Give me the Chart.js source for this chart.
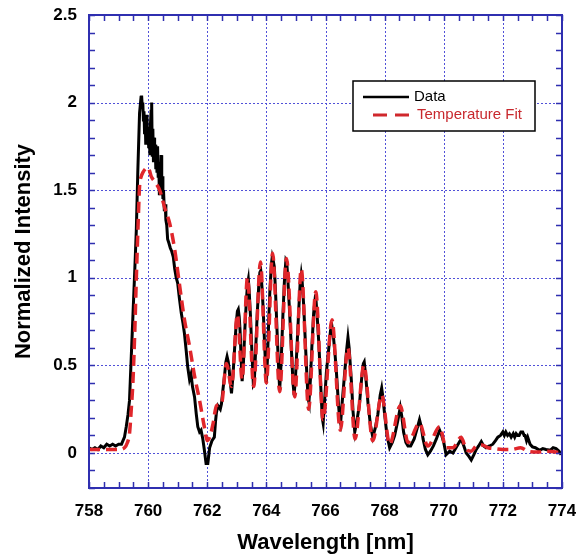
<!DOCTYPE html>
<html>
<head>
<meta charset="utf-8">
<script src="https://cdn.jsdelivr.net/npm/chart.js@4.4.1/dist/chart.umd.min.js"></script>
<style>
  html, body { margin: 0; padding: 0; background: #fff; }
  #wrap { width: 576px; height: 558px; }
</style>
</head>
<body>
<div id="wrap"><canvas id="myChart" width="576" height="558"></canvas></div>
<script>
// measured spectrum (wavelength in nm, normalized intensity)
const dataWavelength = [
    758.0, 758.1, 758.2, 758.3, 758.4, 758.5, 758.6, 758.7, 758.8, 758.9,
    759.0, 759.1, 759.2, 759.26, 759.32, 759.37, 759.43, 759.49, 759.55, 759.6,
    759.65, 759.71, 759.76, 759.78, 759.8, 759.82, 759.84, 759.86, 759.88, 759.9,
    759.92, 759.94, 759.96, 759.98, 760.0, 760.02, 760.04, 760.06, 760.08, 760.1,
    760.12, 760.14, 760.16, 760.18, 760.2, 760.22, 760.24, 760.26, 760.28, 760.3,
    760.32, 760.34, 760.36, 760.38, 760.4, 760.42, 760.44, 760.46, 760.48, 760.5,
    760.52, 760.55, 760.58, 760.6, 760.63, 760.66, 760.7, 760.75, 760.8, 760.85,
    760.9, 760.95, 761.0, 761.06, 761.12, 761.18, 761.23, 761.29, 761.34, 761.4,
    761.45, 761.5, 761.57, 761.63, 761.68, 761.74, 761.79, 761.85, 761.9, 761.96,
    762.02, 762.08, 762.16, 762.24, 762.28, 762.31, 762.36, 762.4, 762.44, 762.48,
    762.53, 762.59, 762.63, 762.67, 762.71, 762.74, 762.78, 762.82, 762.87, 762.93,
    762.98, 763.02, 763.05, 763.08, 763.11, 763.15, 763.18, 763.22, 763.27, 763.32,
    763.36, 763.39, 763.42, 763.46, 763.51, 763.56, 763.59, 763.64, 763.69, 763.74,
    763.78, 763.81, 763.85, 763.89, 763.94, 764.0, 764.04, 764.08, 764.12, 764.17,
    764.2, 764.23, 764.27, 764.31, 764.36, 764.41, 764.45, 764.5, 764.56, 764.61,
    764.66, 764.69, 764.73, 764.79, 764.85, 764.9, 764.94, 764.99, 765.04, 765.09,
    765.14, 765.18, 765.21, 765.26, 765.3, 765.36, 765.41, 765.44, 765.49, 765.54,
    765.6, 765.65, 765.68, 765.73, 765.78, 765.84, 765.89, 765.92, 765.97, 766.03,
    766.1, 766.17, 766.22, 766.27, 766.32, 766.37, 766.43, 766.48, 766.51, 766.57,
    766.65, 766.71, 766.76, 766.8, 766.84, 766.88, 766.93, 766.99, 767.06, 767.15,
    767.22, 767.28, 767.31, 767.36, 767.44, 767.52, 767.6, 767.68, 767.77, 767.85,
    767.9, 767.94, 768.0, 768.08, 768.17, 768.26, 768.34, 768.44, 768.53, 768.58,
    768.64, 768.72, 768.79, 768.88, 769.0, 769.1, 769.18, 769.24, 769.3, 769.38,
    769.46, 769.55, 769.65, 769.75, 769.86, 769.93, 770.0, 770.08, 770.2, 770.31,
    770.45, 770.59, 770.68, 770.76, 770.85, 770.93, 771.02, 771.1, 771.18, 771.27,
    771.35, 771.43, 771.55, 771.66, 771.75, 771.83, 771.92, 772.0, 772.05, 772.1,
    772.16, 772.22, 772.28, 772.35, 772.4, 772.45, 772.5, 772.55, 772.61, 772.67,
    772.72, 772.75, 772.8, 772.84, 772.92, 773.0, 773.1, 773.24, 773.35, 773.46,
    773.6, 773.7, 773.8, 773.9, 773.97
];
const dataIntensity = [
    0.03, 0.02, 0.03, 0.02, 0.04, 0.03, 0.05, 0.04, 0.05, 0.04,
    0.05, 0.05, 0.09, 0.15, 0.22, 0.30, 0.55, 0.80, 1.05, 1.27,
    1.60, 1.94, 2.03, 2.04, 1.98, 2.00, 1.90, 1.95, 1.82, 1.92,
    1.76, 1.88, 1.93, 1.80, 1.86, 1.74, 1.82, 1.70, 1.88, 1.95,
    2.00, 1.70, 1.85, 1.66, 1.80, 1.68, 1.76, 1.62, 1.74, 1.60,
    1.75, 1.58, 1.66, 1.48, 1.62, 1.56, 1.70, 1.52, 1.58, 1.45,
    1.50, 1.38, 1.42, 1.33, 1.30, 1.22, 1.20, 1.17, 1.15, 1.12,
    1.05, 1.00, 0.97, 0.88, 0.80, 0.74, 0.68, 0.58, 0.49, 0.42,
    0.45, 0.38, 0.32, 0.22, 0.15, 0.12, 0.13, 0.08, 0.02, -0.06,
    -0.06, 0.03, 0.07, 0.09, 0.18, 0.23, 0.27, 0.26, 0.25, 0.28,
    0.36, 0.45, 0.52, 0.55, 0.52, 0.48, 0.40, 0.34, 0.44, 0.61,
    0.74, 0.81, 0.82, 0.78, 0.70, 0.52, 0.41, 0.50, 0.70, 0.86,
    0.96, 0.99, 0.92, 0.79, 0.58, 0.39, 0.40, 0.60, 0.79, 0.95,
    1.03, 1.04, 0.95, 0.83, 0.62, 0.40, 0.55, 0.76, 0.93, 1.08,
    1.12, 1.10, 1.06, 0.92, 0.70, 0.50, 0.36, 0.52, 0.79, 0.98,
    1.10, 1.09, 0.98, 0.79, 0.58, 0.40, 0.33, 0.45, 0.62, 0.80,
    0.96, 1.02, 0.98, 0.85, 0.70, 0.48, 0.31, 0.29, 0.42, 0.61,
    0.80, 0.88, 0.87, 0.75, 0.61, 0.38, 0.20, 0.17, 0.30, 0.46,
    0.58, 0.70, 0.72, 0.66, 0.57, 0.46, 0.30, 0.19, 0.17, 0.30,
    0.46, 0.58, 0.66, 0.60, 0.50, 0.40, 0.24, 0.12, 0.18, 0.28,
    0.42, 0.51, 0.52, 0.44, 0.28, 0.16, 0.09, 0.14, 0.22, 0.33,
    0.37, 0.32, 0.22, 0.10, 0.03, 0.06, 0.10, 0.18, 0.26, 0.21,
    0.12, 0.06, 0.04, 0.04, 0.08, 0.14, 0.19, 0.15, 0.08, 0.02,
    -0.01, 0.01, 0.04, 0.08, 0.13, 0.10, 0.06, -0.01, 0.01, 0.00,
    0.04, 0.08, 0.04, 0.00, -0.02, -0.04, -0.01, 0.02, 0.04, 0.065,
    0.04, 0.03, 0.04, 0.05, 0.07, 0.09, 0.10, 0.12, 0.10, 0.12,
    0.10, 0.11, 0.09, 0.11, 0.09, 0.11, 0.10, 0.10, 0.12, 0.12,
    0.10, 0.10, 0.07, 0.09, 0.05, 0.035, 0.03, 0.015, 0.025, 0.02,
    0.015, 0.03, 0.025, 0.01, -0.01
];

// rotational temperature fit
const fitWavelength = [
    758.0, 758.5, 759.0, 759.2, 759.3, 759.37, 759.43, 759.49, 759.55, 759.6,
    759.66, 759.71, 759.77, 759.82, 759.9, 759.99, 760.05, 760.1, 760.22, 760.39,
    760.56, 760.73, 760.9, 761.07, 761.23, 761.4, 761.57, 761.74, 761.9, 762.0,
    762.1, 762.2, 762.31, 762.48, 762.65, 762.82, 763.02, 763.18, 763.36, 763.57,
    763.8, 764.0, 764.21, 764.45, 764.68, 764.96, 765.18, 765.43, 765.67, 765.92,
    766.22, 766.5, 766.76, 767.0, 767.3, 767.6, 767.9, 768.17, 768.53, 768.79,
    769.18, 769.46, 769.86, 770.08, 770.3, 770.59, 770.76, 770.93, 771.1, 771.3,
    771.5, 771.7, 772.0, 772.3, 772.6, 772.85, 773.2, 773.5, 774.0
];
const fitIntensity = [
    0.02, 0.02, 0.02, 0.03, 0.06, 0.11, 0.25, 0.42, 0.70, 0.99,
    1.30, 1.52, 1.58, 1.60, 1.62, 1.63, 1.61, 1.58, 1.55, 1.50,
    1.40, 1.31, 1.16, 0.95, 0.76, 0.61, 0.44, 0.30, 0.15, 0.07,
    0.10, 0.17, 0.27, 0.28, 0.51, 0.38, 0.79, 0.42, 1.00, 0.38,
    1.09, 0.40, 1.14, 0.35, 1.11, 0.32, 1.05, 0.25, 0.92, 0.19,
    0.76, 0.13, 0.60, 0.08, 0.50, 0.07, 0.33, 0.05, 0.27, 0.06,
    0.17, 0.04, 0.15, 0.03, 0.03, 0.09, 0.02, 0.01, 0.04, 0.045,
    0.03, 0.025, 0.02, 0.02, 0.03, 0.01, 0.005, 0.01, 0.00
];

const xTicks = [758, 760, 762, 764, 766, 768, 770, 772, 774];
const yTicks = [0, 0.5, 1, 1.5, 2, 2.5];

const FONT = "'Liberation Sans', Arial, sans-serif";
const AXIS_BLUE = '#2f2fb0';
const GRID_BLUE = '#5050d8';

function zip(xs, ys) {
    return xs.map((x, i) => ({ x: x, y: ys[i] }));
}

// dotted grid behind the traces, blue frame with inward ticks and the legend on top
const framePlugin = {
    id: 'frame',
    beforeDatasetsDraw(chart) {
        const { ctx, chartArea: a, scales: { x, y } } = chart;
        ctx.save();
        ctx.strokeStyle = GRID_BLUE;
        ctx.lineWidth = 1;
        ctx.setLineDash([2, 2]);
        ctx.beginPath();
        xTicks.forEach(v => {
            const px = Math.round(x.getPixelForValue(v)) + 0.5;
            ctx.moveTo(px, a.top); ctx.lineTo(px, a.bottom);
        });
        yTicks.forEach(v => {
            const py = Math.round(y.getPixelForValue(v)) + 0.5;
            ctx.moveTo(a.left, py); ctx.lineTo(a.right, py);
        });
        ctx.stroke();
        ctx.restore();
    },
    afterDatasetsDraw(chart) {
        const { ctx, chartArea: a, scales: { x, y } } = chart;
        ctx.save();
        ctx.strokeStyle = AXIS_BLUE;
        ctx.lineWidth = 2;
        ctx.strokeRect(a.left, a.top, a.right - a.left, a.bottom - a.top);

        // minor ticks: 0.5 nm on x, 0.1 on y
        const len = 6;
        ctx.lineWidth = 1.5;
        ctx.beginPath();
        for (let v = x.min; v <= x.max + 1e-6; v += 0.5) {
            const px = Math.round(x.getPixelForValue(v)) + 0.5;
            ctx.moveTo(px, a.bottom); ctx.lineTo(px, a.bottom - len);
            ctx.moveTo(px, a.top); ctx.lineTo(px, a.top + len);
        }
        for (let i = 0; i <= 27; i++) {
            const v = y.min + i * 0.1;
            const py = Math.round(y.getPixelForValue(v)) + 0.5;
            ctx.moveTo(a.left, py); ctx.lineTo(a.left + len, py);
            ctx.moveTo(a.right, py); ctx.lineTo(a.right - len, py);
        }
        ctx.stroke();

        // legend box
        const bx = 353, by = 81, bw = 182, bh = 50;
        ctx.fillStyle = '#fff';
        ctx.fillRect(bx, by, bw, bh);
        ctx.strokeStyle = '#000';
        ctx.lineWidth = 1.5;
        ctx.strokeRect(bx, by, bw, bh);

        ctx.lineWidth = 2.5;
        ctx.beginPath();
        ctx.moveTo(363, 97); ctx.lineTo(409, 97);
        ctx.stroke();
        ctx.strokeStyle = '#d0282c';
        ctx.lineWidth = 3;
        ctx.setLineDash([14, 8]);
        ctx.beginPath();
        ctx.moveTo(373, 115); ctx.lineTo(409, 115);
        ctx.stroke();
        ctx.setLineDash([]);

        ctx.font = '15px ' + FONT;
        ctx.textBaseline = 'middle';
        ctx.textAlign = 'left';
        ctx.fillStyle = '#000';
        ctx.fillText('Data', 414, 97);
        ctx.fillStyle = '#c8282d';
        ctx.fillText('Temperature Fit', 417, 115);
        ctx.restore();
    }
};

const ctx = document.getElementById('myChart');
new Chart(ctx, {
    type: 'line',
    data: {
        datasets: [{
            label: 'Data',
            data: zip(dataWavelength, dataIntensity),
            borderColor: '#000',
            borderWidth: 3,
            pointRadius: 0,
            tension: 0,
            order: 1
        }, {
            label: 'Temperature Fit',
            data: zip(fitWavelength, fitIntensity),
            borderColor: '#e0262b',
            borderWidth: 3.5,
            borderDash: [11, 6],
            pointRadius: 0,
            cubicInterpolationMode: 'monotone',
            order: 0
        }]
    },
    options: {
        responsive: false,
        animation: false,
        layout: { padding: { top: 15, right: 14, left: 0, bottom: 0 } },
        plugins: {
            legend: { display: false },
            tooltip: { enabled: false }
        },
        scales: {
            x: {
                type: 'linear',
                min: 758,
                max: 774,
                grid: { display: false },
                border: { display: false },
                afterBuildTicks(axis) { axis.ticks = xTicks.map(v => ({ value: v })); },
                afterFit(axis) {
                    axis.height = 70;
                    axis.paddingLeft = 0;
                    axis.paddingRight = 0;
                },
                ticks: {
                    autoSkip: false,
                    maxRotation: 0,
                    padding: 5,
                    color: '#000',
                    font: { family: FONT, size: 17, weight: 'bold' },
                    callback: v => String(v)
                },
                title: {
                    display: true,
                    text: 'Wavelength [nm]',
                    color: '#000',
                    font: { family: FONT, size: 22, weight: 'bold' },
                    padding: { top: 0, bottom: 2 }
                }
            },
            y: {
                type: 'linear',
                min: -0.2,
                max: 2.5,
                grid: { display: false },
                border: { display: false },
                afterBuildTicks(axis) { axis.ticks = yTicks.map(v => ({ value: v })); },
                afterFit(axis) {
                    axis.width = 89;
                    axis.paddingTop = 0;
                    axis.paddingBottom = 0;
                },
                ticks: {
                    padding: 4,
                    color: '#000',
                    font: { family: FONT, size: 17, weight: 'bold' },
                    callback: v => String(v)
                },
                title: {
                    display: true,
                    text: 'Normalized Intensity',
                    color: '#000',
                    font: { family: FONT, size: 22, weight: 'bold' },
                    padding: { top: 11, bottom: 0 }
                }
            }
        }
    },
    plugins: [framePlugin]
});
</script>
</body>
</html>
